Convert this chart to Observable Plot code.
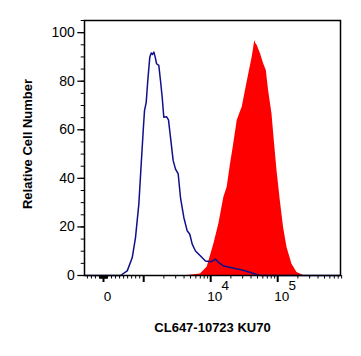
<!DOCTYPE html>
<html><head><meta charset="utf-8">
<script src="https://cdn.jsdelivr.net/npm/d3@7"></script>
<script src="https://cdn.jsdelivr.net/npm/@observablehq/plot@0.6"></script>
<style>body{margin:0;background:#fff}</style>
</head><body><div id="chart"></div>
<script>
// Control (isotype) histogram — fluorescence intensity vs relative cell number
const controlX = [-470, 300, 423, 590, 714, 796, 879, 938, 988, 1028, 1090, 1151, 1233, 1294, 1353, 1416, 1486, 1553, 1680, 1781, 1888, 1995, 2188, 2344, 2512, 2754, 2985, 3273, 3540, 3972, 4457, 4875, 5297, 5930, 7047, 8356, 10160, 11800, 13210, 15700, 22130, 29510, 39430, 52270, 57410, 850000];
const controlY = [0, 0, 0, 1.9, 7.3, 15.6, 29.4, 45.9, 59.7, 67.9, 71.3, 80.3, 89.9, 91.6, 91, 92, 89.9, 87.2, 86.5, 80.3, 73.4, 65.2, 65.4, 64.1, 56.9, 47.3, 43.8, 41.8, 32.1, 23.9, 18.4, 17, 12.9, 10.1, 8, 6, 5.7, 6.7, 5.3, 3.9, 3, 2.3, 1.2, 0.1, 0, 0];
// KU70 stained histogram
const stainedX = [-470, 4457, 7047, 8870, 11130, 13210, 15700, 17620, 19770, 21680, 24890, 27000, 29510, 33050, 37060, 41600, 45500, 47000, 49340, 55350, 61660, 67610, 73110, 82200, 88960, 97700, 109400, 122500, 137700, 163400, 194100, 243600, 850000];
const stainedY = [0, 0, 0.6, 3.5, 12.9, 21.1, 32.1, 36.3, 45.9, 52.8, 63.8, 66.5, 69.3, 76.2, 83.1, 89.9, 96.8, 95.5, 94.8, 91.3, 87.2, 84.4, 76.2, 66.5, 55.5, 43.1, 30.8, 19.7, 11.5, 4.6, 1.2, 0, 0];

const yTickLabels = [0, 20, 40, 60, 80, 100];
const xMajorTicks = [1e3, 1e4, 1e5];
const xLabelValues = [0, 1e4, 1e5];
const xLabelBase = ["0", "10", "10"];
const xLabelExp = ["", "4", "5"];
const xTitle = "CL647-10723 KU70";
const yTitle = "Relative Cell Number";

// biexponential-style display transform (decades)
const LIN = 1000, LIN_DEC = 0.6;
function biex(v) {
  const a = Math.abs(v);
  const t = a <= LIN ? a / LIN * LIN_DEC : LIN_DEC + Math.log10(a / LIN);
  return v < 0 ? -t : t;
}

const control = controlX.map((x, i) => ({x, y: controlY[i]}));
const stained = stainedX.map((x, i) => ({x, y: stainedY[i]}));

// minor ticks of the biex axis
const xMinor = [];
for (let v = -400; v <= -100; v += 100) xMinor.push(v);
for (let v = -90; v <= 90; v += 10) xMinor.push(v);
for (let v = 100; v <= 900; v += 100) xMinor.push(v);
for (const d of [3, 4, 5]) for (let m = 2; m <= 9; m++) xMinor.push(m * 10 ** d);
const yMinor = d3.range(5, 106, 5);

const labels = xLabelValues.map((v, i) => ({v, base: xLabelBase[i], exp: xLabelExp[i]}));

const font = "Liberation Sans, Arial, sans-serif";
const chart = Plot.plot({
  width: 361, height: 356,
  marginLeft: 84, marginRight: 21, marginTop: 20, marginBottom: 81,
  style: {fontFamily: font, background: "#fff", color: "#000"},
  x: {domain: [(84 - 103) / 67, (340 - 103) / 67]},
  y: {domain: [0, 105]},
  marks: [
    Plot.areaY(stained, {x: d => biex(d.x), y: "y", fill: "#ff0000"}),
    Plot.lineY(control, {x: d => biex(d.x), y: "y", stroke: "#10108c", strokeWidth: 1.5}),
    Plot.frame({stroke: "#000", strokeWidth: 1.5}),
    Plot.axisY(yMinor, {tickSize: 3.3, text: null, label: null, strokeWidth: 1}),
    Plot.axisY(yTickLabels, {tickSize: 6.7, tickPadding: 3, fontSize: 14, label: null, strokeWidth: 1.3}),
    Plot.axisX(xMinor.map(biex), {tickSize: 3.5, text: null, label: null, strokeWidth: 1}),
    Plot.axisX([0, ...xMajorTicks].map(biex), {tickSize: 7, text: null, label: null, strokeWidth: 2}),
    Plot.text(labels, {x: d => biex(d.v), text: "base", frameAnchor: "bottom", dy: 25, dx: 4, fontSize: 13.5, textAnchor: "middle"}),
    Plot.text(labels, {x: d => biex(d.v), text: "exp", frameAnchor: "bottom", dy: 14, dx: 14.5, fontSize: 13.5}),
    Plot.text([yTitle], {frameAnchor: "left", dx: -57, dy: -4, rotate: -90, fontSize: 13, fontWeight: "bold", textAnchor: "middle"}),
    Plot.text([xTitle], {frameAnchor: "bottom", dy: 56, fontSize: 13, fontWeight: "bold"})
  ]
});
document.getElementById("chart").appendChild(chart);
</script>
</body></html>
